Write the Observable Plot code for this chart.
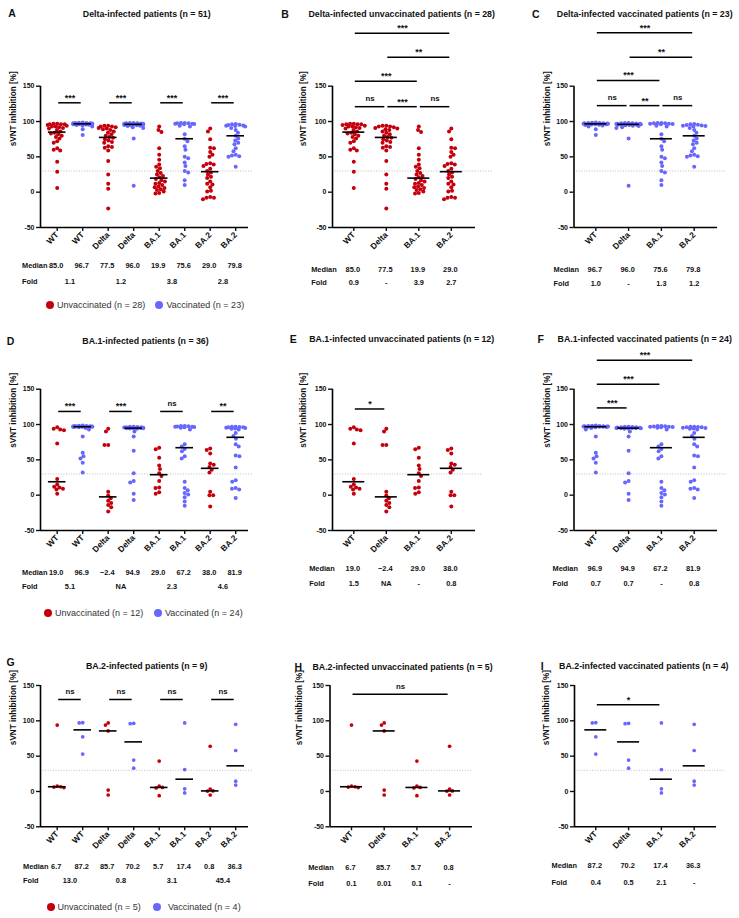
<!DOCTYPE html>
<html><head><meta charset="utf-8">
<script src="https://cdn.jsdelivr.net/npm/d3@7"></script>
<script src="https://cdn.jsdelivr.net/npm/@observablehq/plot@0.6"></script>
<style>
body{margin:0;background:#fff;}
#root{position:relative;width:739px;height:918px;overflow:hidden;font-family:"Liberation Sans",Arial,sans-serif;color:#111;}
.ttl{position:absolute;white-space:nowrap;transform:translate(-50%,-50%);font-weight:bold;font-size:8.8px;}
.letter{position:absolute;font-weight:bold;font-size:10.5px;transform:translate(-50%,-50%);}
.legtxt{position:absolute;font-size:9px;color:#333;white-space:nowrap;transform:translateY(-50%);}
.legdot{position:absolute;width:8px;height:8px;border-radius:50%;}
.pnl{position:absolute;overflow:visible;}
</style></head><body><div id="root"></div>
<script>
// ---------------- data ----------------
const variants = ["WT", "Delta", "BA.1", "BA.2"];
const RED = "#c4000c", BLUE = "#6767ff";

// Delta-infected, unvaccinated (n = 28): WT, Delta, BA.1, BA.2
const deltaUnvac = [
  [97, 97, 96, 96, 96, 95, 94, 93, 93, 92, 91, 90, 88, 86, 84, 83, 82, 80, 78, 76, 72, 70, 62, 60, 59, 43, 29, 6],
  [94, 94, 93, 93, 92, 91, 90, 89, 88, 86, 84, 82, 80, 78, 77, 75, 73, 71, 70, 65, 64, 63, 59, 44, 25, 12, 5, -23],
  [93, 88, 85, 62, 53, 46, 39, 36, 34, 30, 27, 25, 23, 21, 18.8, 17, 15, 13, 12, 10, 8, 7, 6, 4, 3, 1, -1, -2],
  [90, 86, 75, 63, 62, 57, 53, 50, 41, 40, 39, 37, 33, 30, 28, 25, 22, 20, 15, 12, 11, 7, 2, 1, -7, -8, -8, -10]
];
// Delta-infected, vaccinated (n = 23)
const deltaVac = [
  [98.5, 98.3, 98, 97.8, 97.6, 97.4, 97.2, 97, 96.9, 96.8, 96.7, 96.7, 96.5, 96.3, 96.1, 96, 95.8, 95.5, 95, 94.5, 93, 89, 81],
  [98, 97.8, 97.6, 97.4, 97.2, 97, 96.8, 96.6, 96.4, 96.2, 96.1, 96.0, 95.8, 95.5, 95.2, 95, 94.6, 94, 93.5, 92, 91, 76, 9],
  [98, 98, 97.5, 97.5, 97, 97, 96.5, 96, 94, 93, 82, 75.6, 72, 65, 60, 50, 48, 42, 37, 30, 28, 17, 10],
  [96.5, 96, 95.5, 95, 94.5, 94, 93.5, 93, 91, 88, 84, 79.8, 76, 73, 70, 68, 62, 58, 53, 52, 51, 50, 36]
];
// BA.1-infected, unvaccinated (n = 12)
const ba1Unvac = [
  [96, 94, 93, 92, 73, 23, 15, 12, 11, 9, 8, 2],
  [94, 90, 71, 71, 5, -0.5, -4.3, -8, -11, -14, -17, -23],
  [67, 65, 53, 42, 37, 31, 27, 20, 11, 10, 4, 2],
  [66, 64, 59, 45, 43, 40, 36, 32, 5, 0, 0, -16]
];
// BA.1-infected, vaccinated (n = 24)
const ba1Vac = [
  [98.5, 98.2, 98, 97.8, 97.6, 97.4, 97.3, 97.2, 97.1, 97, 96.95, 96.9, 96.9, 96.7, 96.5, 96, 95, 93, 83, 60, 55, 52, 46, 32],
  [97, 96.8, 96.5, 96.3, 96, 95.8, 95.6, 95.4, 95.2, 95.1, 95, 94.9, 94.9, 94.7, 94.5, 94, 90, 83, 63, 31, 20, 18, 2, -7],
  [98, 97.8, 97.5, 97.2, 97, 96.8, 96.5, 96, 95.5, 93, 72, 69, 65.4, 62, 55, 52, 19, 10, 7, 3, 1, -3, -9, -15],
  [97, 96.8, 96.5, 96.2, 96, 95.5, 95, 94.5, 94, 93, 88, 83.8, 80, 72, 69, 56, 55, 39, 21, 19, 10, 9, 8, -4]
];
// BA.2-infected, unvaccinated (n = 5)
const ba2Unvac = [
  [94, 7.5, 6.7, 6.2, 5.5],
  [97, 94, 85.7, 2, -5],
  [43, 7.5, 5.7, 5, -6],
  [64, 3.5, 0.8, 0.5, -5]
];
// BA.2-infected, vaccinated (n = 4)
const ba2Vac = [
  [97.4, 97, 77.4, 53],
  [96.5, 96, 44.4, 33],
  [97, 31, 3.8, -2],
  [95, 58, 14.6, 9]
];

// table texts
const medA = ["85.0", "96.7", "77.5", "96.0", "19.9", "75.6", "29.0", "79.8"], foldA = ["1.1", "1.2", "3.8", "2.8"];
const medB = ["85.0", "77.5", "19.9", "29.0"], foldB = ["0.9", "-", "3.9", "2.7"];
const medC = ["96.7", "96.0", "75.6", "79.8"], foldC = ["1.0", "-", "1.3", "1.2"];
const medD = ["19.0", "96.9", "\u22122.4", "94.9", "29.0", "67.2", "38.0", "81.9"], foldD = ["5.1", "NA", "2.3", "4.6"];
const medE = ["19.0", "\u22122.4", "29.0", "38.0"], foldE = ["1.5", "NA", "-", "0.8"];
const medF = ["96.9", "94.9", "67.2", "81.9"], foldF = ["0.7", "0.7", "-", "0.8"];
const medG = ["6.7", "87.2", "85.7", "70.2", "5.7", "17.4", "0.8", "36.3"], foldG = ["13.0", "0.8", "3.1", "45.4"];
const medH = ["6.7", "85.7", "5.7", "0.8"], foldH = ["0.1", "0.01", "0.1", "-"];
const medI = ["87.2", "70.2", "17.4", "36.3"], foldI = ["0.4", "0.5", "2.1", "-"];

// significance brackets: [from column, to column, label, level]
const sigA = [[0, 1, "***", 1], [2, 3, "***", 1], [4, 5, "***", 1], [6, 7, "***", 1]];
const sigB = [[0, 1, "ns", 1], [1, 2, "***", 1], [2, 3, "ns", 1], [0, 2, "***", 2], [1, 3, "**", 3], [0, 3, "***", 4]];
const sigC = [[0, 1, "ns", 1], [1, 2, "**", 1], [2, 3, "ns", 1], [0, 2, "***", 2], [1, 3, "**", 3], [0, 3, "***", 4]];
const sigD = [[0, 1, "***", 1], [2, 3, "***", 1], [4, 5, "ns", 1], [6, 7, "**", 1]];
const sigE = [[0, 1, "*", 1]];
const sigF = [[0, 1, "***", 1], [0, 2, "***", 2], [0, 3, "***", 3]];
const sigG = [[0, 1, "ns", 1], [2, 3, "ns", 1], [4, 5, "ns", 1], [6, 7, "ns", 1]];
const sigH = [[0, 3, "ns", 1]];
const sigI = [[0, 2, "*", 1]];

// ---------------- helpers ----------------
function interleave(u, v) {
  const g = [];
  variants.forEach((name, i) => {
    g.push({values: u[i], color: RED, label: name});
    g.push({values: v[i], color: BLUE, label: name});
  });
  return g;
}
function single(arr, color) {
  return variants.map((name, i) => ({values: arr[i], color, label: name}));
}

// beeswarm-like horizontal spreading (pixel units)
function swarm(values, k, r, maxW) {
  const D = 2 * r * 0.9;
  const placed = [];
  const sorted = values.slice().sort((a, b) => b - a);
  let flip = false;
  for (const v of sorted) {
    const y = -v * k;
    let best = 0, bestCost = Infinity;
    for (let s = 0; s <= maxW + 1e-9; s += 0.25) {
      const cands = s === 0 ? [0] : (flip ? [-s, s] : [s, -s]);
      for (const dx of cands) {
        let cost = 0;
        for (const p of placed) {
          const d = Math.hypot(dx - p.dx, y - p.y);
          if (d < D) cost += D - d;
        }
        if (cost < bestCost - 1e-9) { bestCost = cost; best = dx; }
      }
      if (bestCost === 0) break;
    }
    flip = !flip;
    placed.push({v, y, dx: best});
  }
  return placed;
}

const root = document.getElementById("root");

function panel(cfg) {
  const {left, top, width, height, axisX, col0, step, axisEnd, y150, yM50} = cfg;
  const marginLeft = axisX - left, marginRight = left + width - axisEnd;
  const marginTop = y150 - top, marginBottom = top + height - yM50;
  const xd = [(axisX - col0) / step, (axisEnd - col0) / step];
  const k = (yM50 - y150) / 200;
  const n = cfg.groups.length;
  const pts = [], meds = [];
  cfg.groups.forEach((g, i) => {
    swarm(g.values, k, cfg.r, step * 0.38).forEach(p => pts.push({x: i + p.dx / step, y: p.v, c: g.color}));
    meds.push({i, m: d3.median(g.values)});
  });
  const hw = cfg.medHalf / step;
  const br = cfg.sig.map(([a, b, t, lv]) => ({a, b, t, y: cfg.levels[lv]}));
  const foldX = cfg.paired ? (i => 2 * i + 0.5) : (i => i);
  const idx = d3.range(n);
  const txt = {fill: "#111", fontWeight: "bold"};
  const svg = Plot.plot({
    width, height, marginLeft, marginRight, marginTop, marginBottom,
    x: {domain: xd},
    y: {domain: [-50, 150]},
    color: {type: "identity"},
    style: {fontFamily: "'Liberation Sans', Arial, sans-serif", fontWeight: "bold", background: "transparent", color: "#111", overflow: "visible"},
    marks: [
      Plot.ruleY([30], {x1: xd[0], x2: xd[1] + cfg.ext / step, stroke: "#b8b8b8", strokeWidth: 0.9, strokeDasharray: "1,1.6"}),
      Plot.dot(pts, {x: "x", y: "y", r: cfg.r, fill: "c", stroke: null}),
      Plot.ruleY(meds, {y: "m", x1: d => d.i - hw, x2: d => d.i + hw, stroke: "#000", strokeWidth: 1.6}),
      Plot.ruleX([xd[0]], {y1: -50, y2: 150, stroke: "#000", strokeWidth: 1.6}),
      Plot.ruleY([-50], {x1: xd[0], x2: xd[1], stroke: "#000", strokeWidth: 1.6}),
      Plot.axisY([-50, 0, 50, 100, 150], {tickSize: 4, tickPadding: 2, tickFormat: d => String(d), fontSize: 7, strokeWidth: 1.4, label: null, ...txt}),
      Plot.axisX(idx, {tickFormat: i => cfg.groups[i].label, tickRotate: -45, tickSize: 4, tickPadding: 2, fontSize: 8.4, strokeWidth: 1.4, label: null, ...txt}),
      Plot.text(["sVNT inhibition [%]"], {text: d => d, frameAnchor: "left", rotate: -90, dx: cfg.labX - axisX, dy: cfg.labDy, fontSize: 8.2, ...txt}),
      Plot.ruleY(br, {y: "y", x1: "a", x2: "b", insetLeft: 1.5, insetRight: 1.5, stroke: "#000", strokeWidth: 1.5}),
      Plot.text(br.filter(d => d.t !== "ns"), {x: d => (d.a + d.b) / 2, y: "y", text: "t", dy: -5, fontSize: 9, ...txt}),
      Plot.text(br.filter(d => d.t === "ns"), {x: d => (d.a + d.b) / 2, y: "y", text: "t", dy: -8, fontSize: 7.8, ...txt}),
      Plot.text(cfg.med, {x: (d, i) => i, text: d => d, frameAnchor: "bottom", dx: -1, dy: cfg.medDy, fontSize: 7.4, ...txt}),
      Plot.text(cfg.fold, {x: (d, i) => foldX(i), text: d => d, frameAnchor: "bottom", dy: cfg.foldDy, fontSize: 7.4, ...txt}),
      Plot.text(["Median"], {text: d => d, frameAnchor: "bottom-left", dx: cfg.rowLabDx, dy: cfg.medDy, fontSize: 7.4, ...txt}),
      Plot.text(["Fold"], {text: d => d, frameAnchor: "bottom-left", dx: cfg.rowLabDx, dy: cfg.foldDy, fontSize: 7.4, ...txt})
    ]
  });
  svg.classList.add("pnl");
  svg.style.left = left + "px";
  svg.style.top = top + "px";
  root.appendChild(svg);
}

function label(cls, text, x, y) {
  const d = document.createElement("div");
  d.className = cls; d.textContent = text;
  d.style.left = x + "px"; d.style.top = y + "px";
  root.appendChild(d);
}
function legend(y, items) {
  for (const it of items) {
    const c = document.createElement("div");
    c.className = "legdot"; c.style.background = it.color;
    c.style.left = (it.cx - 4) + "px"; c.style.top = (y - 4) + "px";
    root.appendChild(c);
    const t = document.createElement("div");
    t.className = "legtxt"; t.textContent = it.text;
    t.style.left = it.tx + "px"; t.style.top = y + "px";
    root.appendChild(t);
  }
}

// ---------------- layout ----------------
const col1 = {left: 0, width: 255, axisX: 40, col0: 56.7, step: 25.5, axisEnd: 248, labX: 13.3, rowLabDx: -18.5, medHalf: 8.8, paired: true, ext: 5};
const col2 = {left: 255, width: 245, axisX: 332, col0: 353.3, step: 32.5, axisEnd: 475, labX: 302.5, medHalf: 11, paired: false};
const col3 = {left: 500, width: 239, axisX: 573.5, col0: 595.3, step: 32.8, axisEnd: 717, labX: 546.5, medHalf: 11, paired: false};
const row1 = {top: 18, height: 277, y150: 85.7, yM50: 227, r: 2.0, labDy: -10.5};
const row2 = {top: 346, height: 250, y150: 388.7, yM50: 530, r: 2.0, labDy: -12};
const row3 = {top: 674, height: 222, y150: 685, yM50: 826.3, r: 1.85, labDy: -11};

panel({...col1, ...row1, groups: interleave(deltaUnvac, deltaVac), med: medA, fold: foldA, sig: sigA, levels: {1: 126.5}, medDy: 40.7, foldDy: 56.7});
panel({...col2, ...row1, groups: single(deltaUnvac, RED), med: medB, fold: foldB, sig: sigB, levels: {1: 121, 2: 157, 3: 191, 4: 225}, medDy: 44, foldDy: 57.3, rowLabDx: -21.3, ext: 18});
panel({...col3, ...row1, groups: single(deltaVac, BLUE), med: medC, fold: foldC, sig: sigC, levels: {1: 122.5, 2: 158, 3: 191, 4: 225.6}, medDy: 44, foldDy: 58, rowLabDx: -20.5, ext: 8});

panel({...col1, ...row2, groups: interleave(ba1Unvac, ba1Vac), med: medD, fold: foldD, sig: sigD, levels: {1: 118.5}, medDy: 44, foldDy: 58.5});
panel({...col2, ...row2, groups: single(ba1Unvac, RED), med: medE, fold: foldE, sig: sigE, levels: {1: 122}, medDy: 40, foldDy: 55, rowLabDx: -23.3, ext: 7});
panel({...col3, ...row2, groups: single(ba1Vac, BLUE), med: medF, fold: foldF, sig: sigF, levels: {1: 123.5, 2: 157, 3: 191}, medDy: 40, foldDy: 55, rowLabDx: -21.5, ext: 10});

panel({...col1, ...row3, groups: interleave(ba2Unvac, ba2Vac), med: medG, fold: foldG, sig: sigG, levels: {1: 130.2}, medDy: 42, foldDy: 56.4, rowLabDx: -17.5});
panel({...col2, ...row3, axisX: 329.5, col0: 351, step: 32.7, axisEnd: 472, labX: 298.5, groups: single(ba2Unvac, RED), med: medH, fold: foldH, sig: sigH, levels: {1: 137.7}, medDy: 43, foldDy: 58.7, rowLabDx: -21.8, ext: 0});
panel({...col3, ...row3, axisX: 574, step: 32.8, axisEnd: 716, labX: 546.3, groups: single(ba2Vac, BLUE), med: medI, fold: foldI, sig: sigI, levels: {1: 122.7}, medDy: 41.4, foldDy: 57.7, rowLabDx: -23, ext: 9});

// titles and panel letters
label("letter", "A", 12, 13); label("ttl", "Delta-infected patients (n = 51)", 146.7, 14);
label("letter", "B", 285, 14); label("ttl", "Delta-infected unvaccinated patients (n = 28)", 401.7, 14);
label("letter", "C", 535.7, 14); label("ttl", "Delta-infected vaccinated patients (n = 23)", 644.7, 14);
label("letter", "D", 10.5, 340.7); label("ttl", "BA.1-infected patients (n = 36)", 145.5, 340.7);
label("letter", "E", 293.3, 339.3); label("ttl", "BA.1-infected unvaccinated patients (n = 12)", 401.7, 339.3);
label("letter", "F", 540.7, 339.3); label("ttl", "BA.1-infected vaccinated patients (n = 24)", 644.7, 339.3);
label("letter", "G", 10.7, 661.7); label("ttl", "BA.2-infected patients (n = 9)", 146.7, 666);
label("letter", "H", 298.3, 667.3); label("ttl", "BA.2-infected unvaccinated patients (n = 5)", 402.5, 667.3);
label("letter", "I", 542.3, 666); label("ttl", "BA.2-infected vaccinated patients (n = 4)", 643.8, 666);

// legends
legend(305, [{color: RED, cx: 50, tx: 57, text: "Unvaccinated (n = 28)"}, {color: BLUE, cx: 159, tx: 166.5, text: "Vaccinated (n = 23)"}]);
legend(612.7, [{color: RED, cx: 48.3, tx: 55, text: "Unvaccinated (n = 12)"}, {color: BLUE, cx: 158.3, tx: 165, text: "Vaccinated (n = 24)"}]);
legend(906.7, [{color: RED, cx: 51, tx: 57.5, text: "Unvaccinated (n = 5)"}, {color: BLUE, cx: 157, tx: 168, text: "Vaccinated (n = 4)"}]);
</script></body></html>
